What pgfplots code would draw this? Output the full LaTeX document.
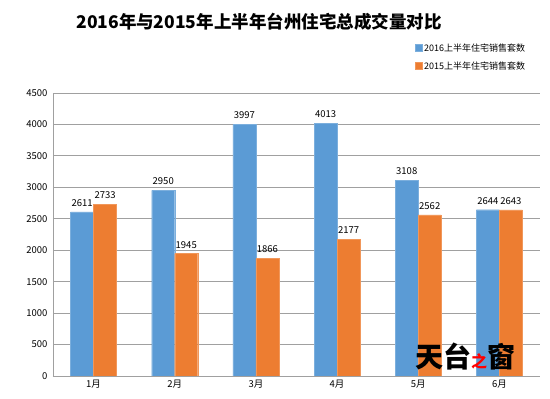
\documentclass[border=0pt]{standalone}
\usepackage{pgfplots}
\pgfplotsset{compat=1.18}
\usepackage{fontspec}
\setmainfont{Noto Sans CJK SC}
\definecolor{cb}{HTML}{5B9BD5}
\definecolor{co}{HTML}{ED7D31}
\definecolor{gr}{HTML}{A0A0A0}
\begin{document}
\begin{tikzpicture}[x=1pt,y=1pt]
\path[use as bounding box] (0,0) rectangle (550,399);
\node[font=\fontsize{17.5}{20}\selectfont\bfseries] at (259,377) {2016年与2015年上半年台州住宅总成交量对比};
\begin{axis}[at={(53pt,23pt)}, anchor=south west, scale only axis,
  width=487pt, height=283pt,
  ybar=0pt, bar width=23pt,
  xmin=-0.5, xmax=5.5, ymin=0, ymax=4500,
  ytick={0,500,...,4500},
  xtick=data, xticklabels={1月,2月,3月,4月,5月,6月},
  axis x line*=bottom, axis y line*=left,
  axis line style={gr, -}, major tick length=0pt,
  ymajorgrids, grid style={gr, line width=0.8pt},
  tick label style={font=\fontsize{9.5}{10}\selectfont},
  /pgf/number format/assume math mode=true,
  /pgf/number format/set thousands separator={},
  yticklabel style={xshift=-2pt},
  nodes near coords,
  every node near coord/.append style={font=\fontsize{9.5}{10}\selectfont, black, yshift=2pt},
  legend style={draw=none, fill=none, font=\fontsize{9}{10}\selectfont, at={(0.98,1.064)}, anchor=south east, row sep=5pt},
  legend cell align=left,
  legend image code/.code={\fill[#1] (0pt,-3.5pt) rectangle (7pt,3.5pt);},
]
\addplot[fill=cb, draw=cb!80!white] coordinates {(0,2611) (1,2950) (2,3997) (3,4013) (4,3108) (5,2644)};
\addplot[fill=co, draw=co!80!white] coordinates {(0,2733) (1,1945) (2,1866) (3,2177) (4,2562) (5,2643)};
\legend{2016上半年住宅销售套数, 2015上半年住宅销售套数}
\end{axis}
\node[font=\fontsize{28}{30}\selectfont\bfseries, inner sep=0pt] at (465,42) {天台\textcolor{red}{\fontsize{16}{18}\selectfont 之}窗};
\end{tikzpicture}
\end{document}
